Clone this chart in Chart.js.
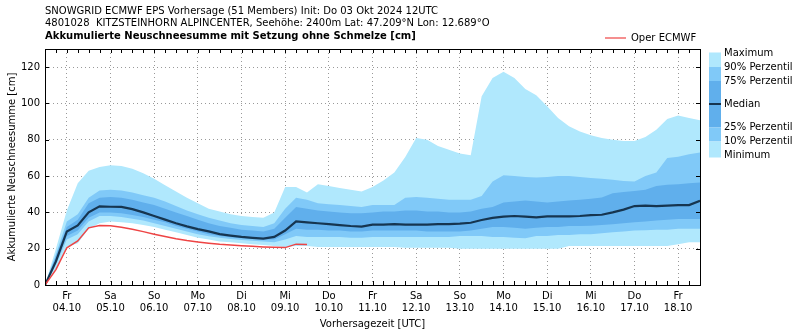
<!DOCTYPE html>
<html>
<head>
<meta charset="utf-8">
<script src="https://cdn.jsdelivr.net/npm/chart.js@4"></script>
<style>
  body { margin: 0; background: #fff; }
  #wrap { width: 800px; height: 334px; position: relative; }
</style>
</head>
<body>
<div id="wrap"><canvas id="snowChart"></canvas></div>
<script>
// hours since init (Do 03.10. 12UTC), 6-hourly
const hours = [0,6,12,18,24,30,36,42,48,54,60,66,72,78,84,90,96,102,108,114,120,126,132,138,144,150,156,162,168,174,180,186,192,198,204,210,216,222,228,234,240,246,252,258,264,270,276,282,288,294,300,306,312,318,324,330,336,342,348,354,360];

const maxVals = [0,20,41,56,63,65,66,65.5,64,61.5, 58.5,55,51.5,48,45,42,40.5,39,38,37.5, 37,40,54,54,51,55.5,54.5,53.5,52.5,51.5, 54,57.5,62,70.5,81,80,76.5,74.5,72.5,71.5, 104,114,117.5,114,108,104.5,98.5,92,87.5,84.5, 82.5,81,80,79.3,79.3,81.5,85.5,91.5,93.4,92, 90.8];
const p90 = [0,17,35,39,48,52,52.5,52,51,49.5, 48,46,43.5,41,39,37,35.5,34,33,32.5, 32,34,42,48,47,45,44.5,44,43.5,43, 44,44,44,48,48.5,48,47.5,47,47,47, 49,57,60.5,60,59.5,59.2,59.5,60,60,59.5, 59,58.5,58,57.3,57,60,62,70,70.7,72, 73];
const p75 = [0,16,32,36,45,48,48.5,48,47,45.5, 44,42,40,38,36,34,32.5,31.5,30.5,30, 29.5,31,37,43,42,41,40.5,40,39.5,39.5, 40,40.5,40.5,41,41,40.5,40.5,40,40,40.5, 42,43,45.5,46,46.5,46,45.5,46,46.5,47, 47.5,48.2,50.5,51.2,51.8,52.5,54.5,55.2,55.5,56, 56.5];
const median = [0,13,29.5,32.8,40,43.3,43.1,43,41.8,40, 38,36,34,32.3,30.8,29.5,28,27.2,26.5,26, 25.6,26.5,30,35,34.5,34,33.5,33,32.5,32.2, 33.3,33.3,33.5,33.3,33.3,33.3,33.5,33.5,33.8,34.3, 35.8,37,37.7,38,37.7,37.3,37.8,37.8,37.8,38, 38.5,38.7,40,41.5,43.5,43.7,43.5,43.7,44,44, 46.4];
const p25 = [0,12,27,30,37,40,40,39.5,38.5,37.5, 36,34.5,32.5,31,29.5,28,27,26.3,25.7,25.3, 25,25,28,31,30.5,30.5,30,30,29.5,29.5, 30,30,30,30,30,29.5,29.5,29.5,29.5,30, 31,32,32,31.5,31,31.5,32,32,32.5,32.5, 32.7,33,33.5,34,34.5,35,35.5,36,36.3,36.3, 36.3];
const p10 = [0,11,25,28,35,38,38,37.5,36.5,35.5, 34,32.5,31,29.5,28,26.8,26,25.3,24.8,24.4, 24,23.5,25,27,26.5,26.5,26.5,26.5,26,26, 26.5,26.5,26.5,26.5,26.5,26.5,26.5,26.5,27,27, 27,26.5,26.5,26,25.7,27,27,27.5,27.5,28, 28,28.5,29,29.5,30,30.2,30.5,30.5,31,31, 31];
const minVals = [0,9,21,23,31,34,35,34.5,34,33, 32,30.5,29,27.5,26,25,24,23.5,23,22.5, 22,21.5,21,21.5,21.5,21,21,21,21,21, 21,21,21,20.5,20.5,20.5,20.5,20.5,20,20, 20,20,20,20,20,20,20,20,21.5,21.5, 21.5,21.5,21.5,21.5,21.5,21.5,21.5,21.5,22.5,23.5, 23.5];
const oper = [0,8.5,20.5,24.3,31.5,32.8,32.7,31.8,30.7,29.4, 28,26.7,25.5,24.5,23.7,23,22.4,22,21.6,21.3, 21,20.8,20.6,22.5,22.3];

// x tick labels at 00UTC of each day
const tickHours = [12,36,60,84,108,132,156,180,204,228,252,276,300,324,348];
const dayNames = ["Fr","Sa","So","Mo","Di","Mi","Do","Fr","Sa","So","Mo","Di","Mi","Do","Fr"];
const dayDates = ["04.10","05.10","06.10","07.10","08.10","09.10","10.10","11.10","12.10","13.10","14.10","15.10","16.10","17.10","18.10"];
const yTicks = [0,20,40,60,80,100,120];

const colLight = "#b0e8fd";
const colMid = "#80c9f8";
const colDark = "#60afec";
const colMedian = "#163550";
const colOper = "#ee4444";
const FONT = "DejaVu Sans";

const pts = (arr) => hours.map((h, i) => ({ x: h, y: i < arr.length ? arr[i] : null }));

// title, legend, frame and inward ticks
const decorPlugin = {
  id: "decor",
  afterDraw(chart) {
    const { ctx, chartArea: a } = chart;
    const xs = chart.scales.x, ys = chart.scales.y;
    ctx.save();
    // titles
    ctx.fillStyle = "#000";
    ctx.textBaseline = "middle";
    ctx.textAlign = "left";
    ctx.font = "10px '" + FONT + "'";
    ctx.fillText("SNOWGRID ECMWF EPS Vorhersage (51 Members) Init: Do 03 Okt 2024 12UTC", 45, 11.5);
    ctx.fillText("4801028  KITZSTEINHORN ALPINCENTER, Seehöhe: 2400m Lat: 47.209°N Lon: 12.689°O", 45, 23.5);
    ctx.font = "bold 10px '" + FONT + "'";
    ctx.fillText("Akkumulierte Neuschneesumme mit Setzung ohne Schmelze [cm]", 45, 36);

    // frame
    ctx.strokeStyle = "#000";
    ctx.lineWidth = 1;
    ctx.strokeRect(Math.round(a.left) + 0.5, Math.round(a.top) + 0.5, Math.round(a.right - a.left), Math.round(a.bottom - a.top));

    // inward ticks
    ctx.beginPath();
    hours.forEach(h => {
      const x = Math.round(xs.getPixelForValue(h)) + 0.5;
      ctx.moveTo(x, a.bottom); ctx.lineTo(x, a.bottom - 4);
      ctx.moveTo(x, a.top); ctx.lineTo(x, a.top + 4);
    });
    yTicks.forEach(v => {
      const y = Math.round(ys.getPixelForValue(v)) + 0.5;
      ctx.moveTo(a.left, y); ctx.lineTo(a.left + 4, y);
      ctx.moveTo(a.right, y); ctx.lineTo(a.right - 4, y);
    });
    ctx.stroke();

    // Oper legend
    ctx.strokeStyle = colOper;
    ctx.lineWidth = 1.2;
    ctx.beginPath();
    ctx.moveTo(605, 38); ctx.lineTo(626, 38);
    ctx.stroke();
    ctx.font = "10px '" + FONT + "'";
    ctx.fillStyle = "#000";
    ctx.fillText("Oper ECMWF", 631, 38);

    // percentile key
    const kx = 709, kw = 12;
    ctx.fillStyle = colLight; ctx.fillRect(kx, 52.5, kw, 14.5);
    ctx.fillStyle = colMid; ctx.fillRect(kx, 67, kw, 14);
    ctx.fillStyle = colDark; ctx.fillRect(kx, 81, kw, 46.5);
    ctx.fillStyle = colMid; ctx.fillRect(kx, 127.5, kw, 14);
    ctx.fillStyle = colLight; ctx.fillRect(kx, 141.5, kw, 16);
    ctx.strokeStyle = colMedian; ctx.lineWidth = 2;
    ctx.beginPath(); ctx.moveTo(kx, 104); ctx.lineTo(kx + kw, 104); ctx.stroke();
    ctx.fillStyle = "#000";
    ctx.fillText("Maximum", 724, 53.5);
    ctx.fillText("90% Perzentil", 724, 67.5);
    ctx.fillText("75% Perzentil", 724, 81.5);
    ctx.fillText("Median", 724, 104);
    ctx.fillText("25% Perzentil", 724, 127.5);
    ctx.fillText("10% Perzentil", 724, 141.5);
    ctx.fillText("Minimum", 724, 155.5);
    ctx.restore();
  }
};

const band = (data, color, target) => ({
  data, borderWidth: 0, borderColor: color, backgroundColor: color,
  pointRadius: 0, fill: target
});

const ctx = document.getElementById("snowChart").getContext("2d");
const snowChart = new Chart(ctx, {
  type: "line",
  data: {
    datasets: [
      { label: "Oper ECMWF", data: pts(oper), borderColor: colOper, borderWidth: 1.5, pointRadius: 0, fill: false, spanGaps: false },
      { label: "Median", data: pts(median), borderColor: colMedian, borderWidth: 2.2, pointRadius: 0, fill: false },
      band(pts(p75), colDark, 5),
      band(pts(p90), colMid, 6),
      band(pts(maxVals), colLight, 7),
      band(pts(p25), colDark, false),
      band(pts(p10), colMid, false),
      band(pts(minVals), colLight, false),
    ],
  },
  options: {
    responsive: true,
    maintainAspectRatio: false,
    animation: false,
    events: [],
    layout: { padding: { top: 49, right: 100, left: 0, bottom: 0 } },
    elements: { line: { tension: 0 } },
    plugins: { legend: { display: false }, tooltip: { enabled: false } },
    scales: {
      x: {
        type: "linear",
        min: 0,
        max: 360,
        afterBuildTicks: (scale) => { scale.ticks = tickHours.map(v => ({ value: v })); },
        afterFit: (scale) => { scale.height = 49; },
        ticks: {
          autoSkip: false,
          maxRotation: 0,
          padding: 6,
          color: "#000",
          font: { family: FONT, size: 10, lineHeight: 1.15 },
          callback: (value, index) => [dayNames[index], dayDates[index]],
        },
        grid: { color: "rgba(0,0,0,0.4)", borderDash: [1, 3], drawTicks: false, lineWidth: 1 },
        border: { display: false, dash: [1, 3] },
        title: {
          display: true, text: "Vorhersagezeit [UTC]", color: "#000",
          font: { family: FONT, size: 10 }, padding: { top: 2, bottom: 4 },
        },
      },
      y: {
        min: 0,
        max: 130,
        afterBuildTicks: (scale) => { scale.ticks = yTicks.map(v => ({ value: v })); },
        afterFit: (scale) => { scale.width = 45; },
        ticks: { padding: 5, color: "#000", font: { family: FONT, size: 10 } },
        grid: { color: "rgba(0,0,0,0.4)", drawTicks: false, lineWidth: 1 },
        border: { display: false, dash: [1, 3] },
        title: {
          display: true, text: "Akkumulierte Neuschneesumme [cm]", color: "#000",
          font: { family: FONT, size: 10 }, padding: { top: 6, bottom: 0 },
        },
      },
    },
  },
  plugins: [decorPlugin],
});
</script>
</body>
</html>
